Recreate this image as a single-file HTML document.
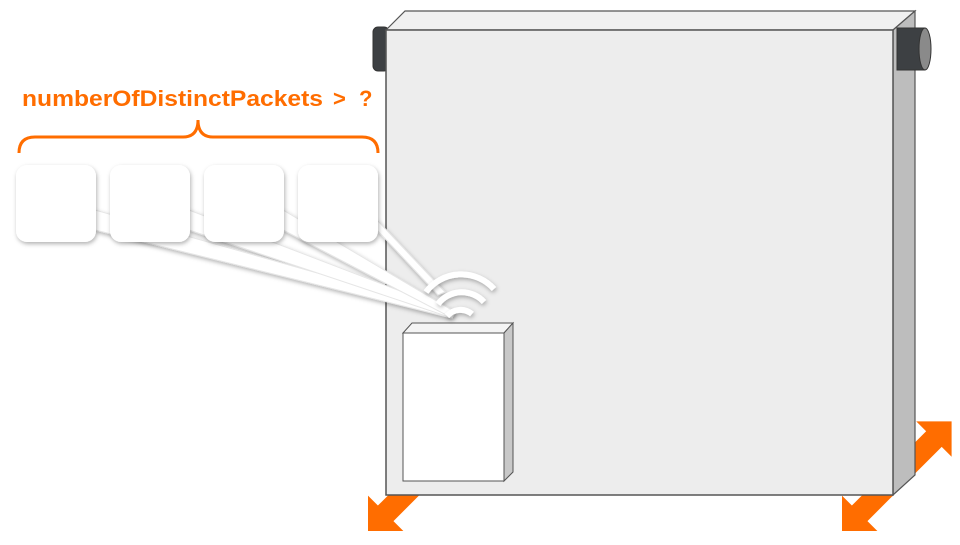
<!DOCTYPE html>
<html><head><style>
body{margin:0;width:960px;height:540px;background:#fff;overflow:hidden;font-family:"Liberation Sans",sans-serif}
</style></head><body>
<svg width="960" height="540" viewBox="0 0 960 540" xmlns="http://www.w3.org/2000/svg">
<defs>
<filter id="sh" x="-20%" y="-20%" width="150%" height="150%"><feDropShadow dx="1" dy="2" stdDeviation="2" flood-color="#000" flood-opacity="0.3"/></filter>
</defs>
<g fill="#ff6d00">
<polygon transform="translate(842,531) rotate(-45)" points="0,0 25,-25 25,-11 130,-11 130,-25 155,0 130,25 130,11 25,11 25,25"/>
<polygon transform="translate(368,531) rotate(-45)" points="0,0 25,-25 25,-11 90,-11 90,11 25,11 25,25"/>
</g>
<rect x="373" y="27" width="16" height="44" rx="5" fill="#3d4043" stroke="#333"/>
<polygon points="386,30 405,11 915,11 893,30" fill="#f0f0f0" stroke="#555" stroke-width="1.2"/>
<polygon points="893,30 915,11 915,475 893,495" fill="#bdbdbd" stroke="#555" stroke-width="1.2"/>
<rect x="386" y="30" width="507" height="465" fill="#ededed" stroke="#555" stroke-width="1.5"/>
<rect x="897" y="28" width="28" height="42" fill="#3d4043" stroke="#333"/>
<ellipse cx="925" cy="49" rx="6" ry="21" fill="#8a8a8a" stroke="#333"/>
<polygon points="403,333 412,323 513,323 504,333" fill="#f4f4f4" stroke="#555"/>
<polygon points="504,333 513,323 513,472 504,481" fill="#c8c8c8" stroke="#555"/>
<rect x="403" y="333" width="101" height="148" fill="#fff" stroke="#555"/>
<text x="22" y="106" font-family="Liberation Sans, sans-serif" font-weight="bold" font-size="22" fill="#ff6d00" textLength="301" lengthAdjust="spacingAndGlyphs">numberOfDistinctPackets</text>
<text x="333" y="106" font-family="Liberation Sans, sans-serif" font-weight="bold" font-size="22" fill="#ff6d00">&gt;</text>
<text x="359" y="106" font-family="Liberation Sans, sans-serif" font-weight="bold" font-size="22" fill="#ff6d00">?</text>
<path d="M19,153 Q19,137 35,137 L183,137 Q198,137 198,120 Q198,137 213,137 L362,137 Q378,137 378,153" fill="none" stroke="#ff6d00" stroke-width="3"/>
<g fill="#fff" stroke="#e6e6e6" stroke-width="1" filter="url(#sh)">
<polygon points="95,210 95,230 452,318 455,312"/>
<polygon points="189,210 189,230 452,318 455,312"/>
<polygon points="283,210 283,230 452,318 455,312"/>
<polygon points="377,220 377,230 438,295 445,292"/>
</g>
<g fill="none" stroke="#fff" stroke-width="6" filter="url(#sh)">
<path d="M447,316 A18,18 0 0 1 472,314"/>
<path d="M438,304 A30,30 0 0 1 484,302"/>
<path d="M426,292 A44,44 0 0 1 494,289"/>
</g>
<g fill="#fff" filter="url(#sh)">
<rect x="16" y="165" width="80" height="77" rx="11"/>
<rect x="110" y="165" width="80" height="77" rx="11"/>
<rect x="204" y="165" width="80" height="77" rx="11"/>
<rect x="298" y="165" width="80" height="77" rx="11"/>
</g>
</svg>
</body></html>
